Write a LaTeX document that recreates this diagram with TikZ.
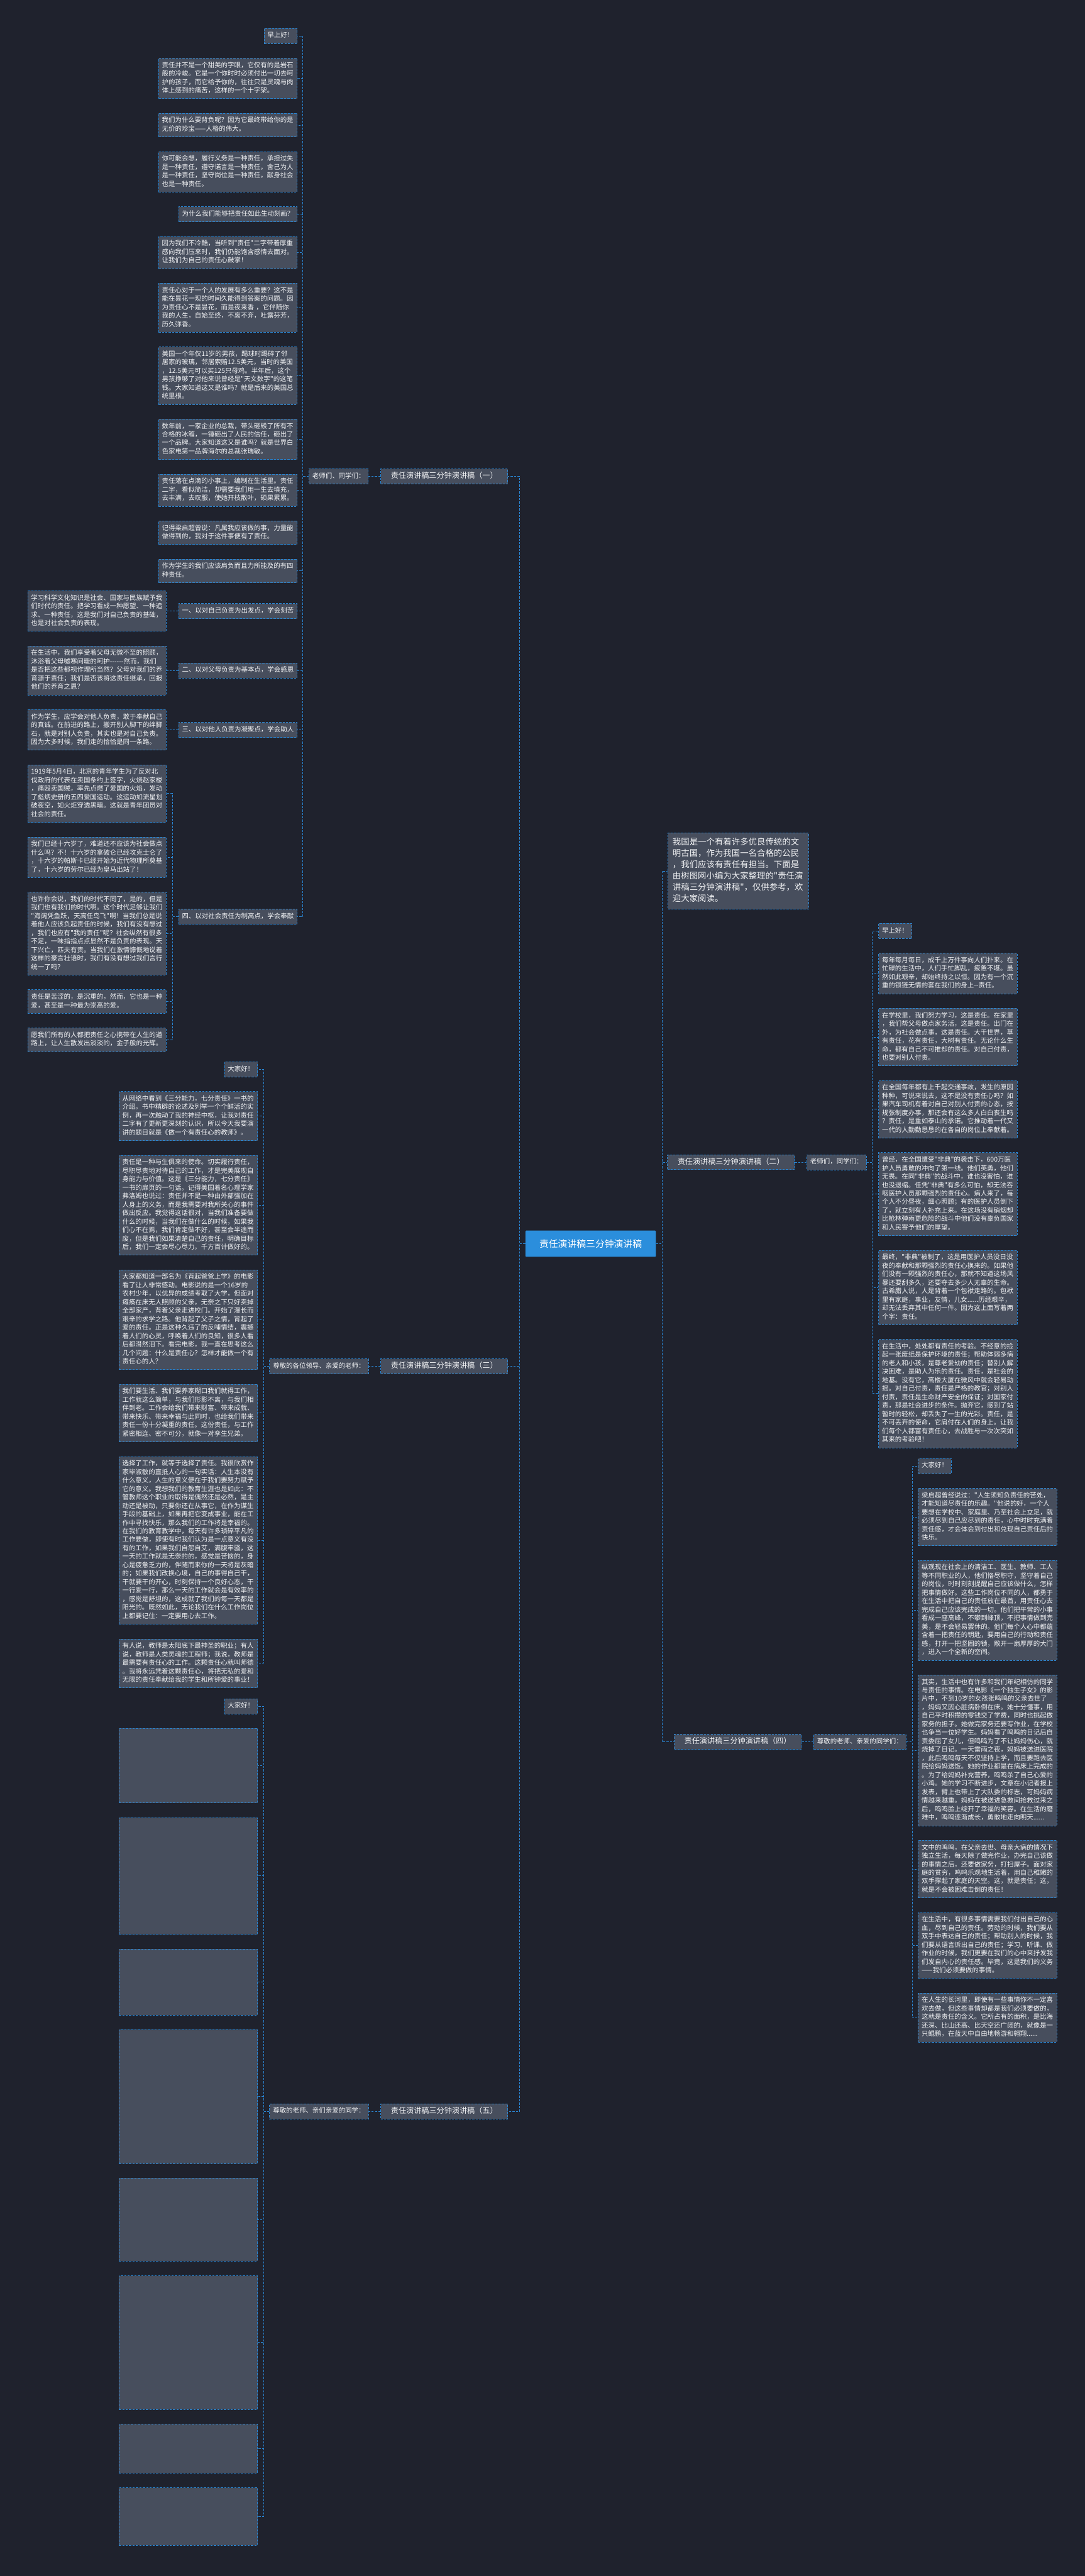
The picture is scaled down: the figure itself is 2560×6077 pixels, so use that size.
\documentclass[tikz,border=0pt]{standalone}
\usepackage{fontspec}
\newfontfamily\cjk{Noto Sans CJK SC}
\usetikzlibrary{positioning, calc}
\setlength{\parindent}{0pt}

\definecolor{bgdark}{HTML}{1F222D}
\definecolor{boxgray}{HTML}{474E5D}
\definecolor{lineblue}{HTML}{2A86D3}
\definecolor{rootblue}{HTML}{2B8EDC}
\definecolor{txtwhite}{HTML}{F2F3F5}

\newcommand\leaffont{\cjk\fontsize{15.5pt}{20pt}\selectfont}
\newcommand\introfont{\cjk\fontsize{19.9pt}{26.7pt}\selectfont}
\newcommand\titlefont{\cjk\fontsize{18pt}{22pt}\selectfont}
\newcommand\rootfont{\cjk\fontsize{22pt}{28pt}\selectfont}

\tikzset{
  box/.style={draw=lineblue, dash pattern=on 5pt off 3pt, line width=1.3pt,
    fill=boxgray, text=txtwhite, font=\leaffont, inner xsep=8pt, inner ysep=7.75pt,
    execute at begin node=\strut, execute at end node=\strut},
  leaf/.style={box, text width=311pt, align=left},
  blank/.style={leaf, minimum height=20*#1+15.5},
  intro/.style={box, font=\introfont, text width=310pt, align=left,
    inner xsep=10.8pt, inner ysep=10pt},
  branch/.style={box, font=\titlefont, minimum width=300pt, minimum height=35pt, inner ysep=4pt},
  rootnode/.style={fill=rootblue, text=white, font=\rootfont, minimum width=308pt,
    minimum height=62pt, rounded corners=2pt},
  link/.style={draw=lineblue, dash pattern=on 5pt off 3pt, line width=1.3pt},
  wl/.style={link, to path={(\tikztostart.west) -- ++(-14,0) |- (\tikztotarget.east)}},
  wr/.style={link, to path={(\tikztostart.east) -- ++(14,0) |- (\tikztotarget.west)}}
}

\begin{document}
\begin{tikzpicture}[x=1pt, y=-1pt]
\fill[bgdark] (0,0) rectangle (2560,6077);
\useasboundingbox (0,0) rectangle (2560,6077);

\node[rootnode] (root) at (1394,2934) {责任演讲稿三分钟演讲稿};

% (一)
\node[box, anchor=north east] (b1a) at (702,66.4) {早上好！};
\node[leaf, below=33.4pt of b1a.south east, anchor=north east] (b1b) {责任并不是一个甜美的字眼，它仅有的是岩石\\般的冷峻。它是一个你时时必须付出一切去呵\\护的孩子，而它给予你的，往往只是灵魂与肉\\体上感到的痛苦，这样的一个十字架。};
\node[leaf, below=33.4pt of b1b.south east, anchor=north east] (b1c) {我们为什么要背负呢？因为它最终带给你的是\\无价的珍宝——人格的伟大。};
\node[leaf, below=33.4pt of b1c.south east, anchor=north east] (b1d) {你可能会想，履行义务是一种责任，承担过失\\是一种责任，遵守诺言是一种责任，舍己为人\\是一种责任，坚守岗位是一种责任，献身社会\\也是一种责任。};
\node[box, below=33.4pt of b1d.south east, anchor=north east] (b1e) {为什么我们能够把责任如此生动刻画？};
\node[leaf, below=33.4pt of b1e.south east, anchor=north east] (b1f) {因为我们不冷酷，当听到"责任"二字带着厚重\\感向我们压来时，我们仍能饱含感情去面对。\\让我们为自己的责任心鼓掌！};
\node[leaf, below=33.4pt of b1f.south east, anchor=north east] (b1g) {责任心对于一个人的发展有多么重要？这不是\\能在昙花一现的时间久能得到答案的问题。因\\为责任心不是昙花，而是夜来香 ，它伴随你\\我的人生，自始至终，不离不弃，吐露芬芳，\\历久弥香。};
\node[leaf, below=33.4pt of b1g.south east, anchor=north east] (b1h) {美国一个年仅11岁的男孩，踢球时踢碎了邻\\居家的玻璃，邻居索赔12.5美元，当时的美国\\，12.5美元可以买125只母鸡。半年后，这个\\男孩挣够了对他来说曾经是"天文数字"的这笔\\钱。大家知道这又是谁吗？就是后来的美国总\\统里根。};
\node[leaf, below=33.4pt of b1h.south east, anchor=north east] (b1i) {数年前，一家企业的总裁，带头砸毁了所有不\\合格的冰箱，一锤砸出了人民的信任，砸出了\\一个品牌。大家知道这又是谁吗？就是世界白\\色家电第一品牌海尔的总裁张瑞敏。};
\node[leaf, below=33.4pt of b1i.south east, anchor=north east] (b1j) {责任落在点滴的小事上，编制在生活里。责任\\二字，看似简洁，却需要我们用一生去填充，\\去丰满，去叹服，使她开枝散叶，硕果累累。};
\node[leaf, below=33.4pt of b1j.south east, anchor=north east] (b1k) {记得梁启超曾说：凡属我应该做的事，力量能\\做得到的，我对于这件事便有了责任。};
\node[leaf, below=33.4pt of b1k.south east, anchor=north east] (b1l) {作为学生的我们应该肩负而且力所能及的有四\\种责任。};

\node[leaf, anchor=north east] (b1q1) at (393,1393.2) {学习科学文化知识是社会、国家与民族赋予我\\们时代的责任。把学习看成一种愿望、一种追\\求、一种责任，这是我们对自己负责的基础，\\也是对社会负责的表现。};
\node[leaf, below=33.4pt of b1q1.south east, anchor=north east] (b1q2) {在生活中，我们享受着父母无微不至的照顾，\\沐浴着父母嘘寒问暖的呵护------然而，我们\\是否把这些都视作理所当然？父母对我们的养\\育源于责任；我们是否该将这责任继承，回报\\他们的养育之恩？};
\node[leaf, below=33.4pt of b1q2.south east, anchor=north east] (b1q3) {作为学生，应学会对他人负责，敢于奉献自己\\的真诚。在前进的路上，搬开别人脚下的绊脚\\石，就是对别人负责，其实也是对自己负责。\\因为大多时候，我们走的恰恰是同一条路。};
\node[leaf, below=33.4pt of b1q3.south east, anchor=north east] (b1q4a) {1919年5月4日，北京的青年学生为了反对北\\伐政府的代表在卖国条约上签字，火烧赵家楼\\，痛殴卖国贼，率先点燃了爱国的火焰，发动\\了彪炳史册的五四爱国运动。这运动如流星划\\破夜空，如火炬穿透黑暗。这就是青年团员对\\社会的责任。};
\node[leaf, below=33.4pt of b1q4a.south east, anchor=north east] (b1q4b) {我们已经十六岁了，难道还不应该为社会做点\\什么吗？不！十六岁的拿破仑已经攻克士仑了\\，十六岁的帕斯卡已经开始为近代物理所奠基\\了，十六岁的劳尔已经为皇马出站了！};
\node[leaf, below=33.4pt of b1q4b.south east, anchor=north east] (b1q4c) {也许你会说，我们的时代不同了，是的，但是\\我们也有我们的时代啊。这个时代足够让我们\\"海阔凭鱼跃，天高任鸟飞"啊！当我们总是说\\着他人应该负起责任的时候，我们有没有想过\\，我们也应有"我的责任"呢？社会纵然有很多\\不足，一味指指点点显然不是负责的表现。天\\下兴亡，匹夫有责。当我们在激情慷慨地说着\\这样的豪言壮语时，我们有没有想过我们言行\\统一了吗？};
\node[leaf, below=33.4pt of b1q4c.south east, anchor=north east] (b1q4d) {责任是苦涩的，是沉重的，然而，它也是一种\\爱，甚至是一种最为崇高的爱。};
\node[leaf, below=33.4pt of b1q4d.south east, anchor=north east] (b1q4e) {愿我们所有的人都把责任之心携带在人生的道\\路上，让人生散发出淡淡的，金子般的光辉。};

\node[box, right=28pt of b1q1] (b1p1) {一、以对自己负责为出发点，学会刻苦};
\node[box, right=28pt of b1q2] (b1p2) {二、以对父母负责为基本点，学会感恩};
\node[box, right=28pt of b1q3] (b1p3) {三、以对他人负责为凝聚点，学会助人};
\node[box, anchor=west] (b1p4) at ($(b1q4a.east)!0.5!(b1q4e.east)+(28,0)$) {四、以对社会责任为制高点，学会奉献};

\node[box, anchor=east] (s1) at ($(b1a.east)!0.5!(b1p4.east)+(168,0)$) {老师们、同学们：};
\node[branch, right=28pt of s1] (t1) {责任演讲稿三分钟演讲稿（一）};

% (三)
\node[box, anchor=north east] (b3a) at (608.3,2504.4) {大家好！};
\node[leaf, below=33.4pt of b3a.south east, anchor=north east] (b3b) {从网络中看到《三分能力，七分责任》一书的\\介绍。书中精辟的论述及列举一个个鲜活的实\\例，再一次触动了我的神经中枢，让我对责任\\二字有了更新更深刻的认识，所以今天我要演\\讲的题目就是《做一个有责任心的教师》。};
\node[leaf, below=33.4pt of b3b.south east, anchor=north east] (b3c) {责任是一种与生俱来的使命。切实履行责任，\\尽职尽责地对待自己的工作，才是完美展现自\\身能力与价值。这是《三分能力，七分责任》\\一书的扉页的一句话。记得美国着名心理学家\\弗洛姆也说过：责任并不是一种由外部强加在\\人身上的义务，而是我需要对我所关心的事件\\做出反应。我觉得这话很对，当我们准备要做\\什么的时候，当我们在做什么的时候，如果我\\们心不在焉，我们肯定做不好，甚至会半途而\\废，但是我们如果清楚自己的责任，明确目标\\后，我们一定会尽心尽力，千方百计做好的。};
\node[leaf, below=33.4pt of b3c.south east, anchor=north east] (b3d) {大家都知道一部名为《背起爸爸上学》的电影\\看了让人非常感动。电影说的是一个16岁的\\农村少年，以优异的成绩考取了大学，但面对\\瘫痪在床无人照顾的父亲，无奈之下只好卖掉\\全部家产，背着父亲走进校门。开始了漫长而\\艰辛的求学之路。他背起了父子之情，背起了\\爱的责任。正是这种久违了的反哺情结，震撼\\着人们的心灵，呼唤着人们的良知，很多人看\\后都潸然泪下。看完电影，我一直在思考这么\\几个问题：什么是责任心？怎样才能做一个有\\责任心的人？};
\node[leaf, below=33.4pt of b3d.south east, anchor=north east] (b3e) {我们要生活、我们要养家糊口我们就得工作，\\工作就这么简单，与我们形影不离，与我们相\\伴到老。工作会给我们带来财富、带来成就、\\带来快乐、带来幸福与此同时，也给我们带来\\责任一份十分凝重的责任。这份责任，与工作\\紧密相连、密不可分，就像一对孪生兄弟。};
\node[leaf, below=33.4pt of b3e.south east, anchor=north east] (b3f) {选择了工作，就等于选择了责任。我很欣赏作\\家毕淑敏的直抵人心的一句实话：人生本没有\\什么意义，人生的意义便在于我们要努力赋予\\它的意义。我想我们的教育生涯也是如此：不\\管教师这个职业的取得是偶然还是必然，是主\\动还是被动，只要你还在从事它，在作为谋生\\手段的基础上，如果再把它变成事业，能在工\\作中寻找快乐，那么我们的工作将是幸福的。\\在我们的教育教学中，每天有许多琐碎平凡的\\工作要做，即使有时我们认为是一点意义有没\\有的工作，如果我们自怨自艾，满腹牢骚，这\\一天的工作就是无奈的的，感觉是苦恼的，身\\心是疲惫乏力的，伴随而来你的一天将是灰暗\\的；如果我们改换心境，自己的事得自己干，\\干就要干的开心，时刻保持一个良好心态，干\\一行爱一行，那么一天的工作就会是有效率的\\，感觉是舒坦的，这成就了我们的每一天都是\\阳光的。既然如此，无论我们在什么工作岗位\\上都要记住：一定要用心去工作。};
\node[leaf, below=33.4pt of b3f.south east, anchor=north east] (b3g) {有人说，教师是太阳底下最神圣的职业；有人\\说，教师是人类灵魂的工程师；我说，教师是\\最需要有责任心的工作。这颗责任心就叫师德\\。我将永远凭着这颗责任心，将把无私的爱和\\无限的责任奉献给我的学生和所钟爱的事业！};

\node[box, anchor=east] (s3) at ($(b3a.east)!0.5!(b3g.east)+(261.7,0)$) {尊敬的各位领导、亲爱的老师：};
\node[branch, right=28pt of s3] (t3) {责任演讲稿三分钟演讲稿（三）};

% (五)  only the greeting could be read; the other boxes keep their size
\node[box, anchor=north east] (b5a) at (608.3,4006.7) {大家好！};
\node[blank=8, below=33.4pt of b5a.south east, anchor=north east] (b5b) {};
\node[blank=13, below=33.4pt of b5b.south east, anchor=north east] (b5c) {};
\node[blank=7, below=33.4pt of b5c.south east, anchor=north east] (b5d) {};
\node[blank=15, below=33.4pt of b5d.south east, anchor=north east] (b5e) {};
\node[blank=9, below=33.4pt of b5e.south east, anchor=north east] (b5f) {};
\node[blank=15, below=33.4pt of b5f.south east, anchor=north east] (b5g) {};
\node[blank=5, below=33.4pt of b5g.south east, anchor=north east] (b5h) {};
\node[blank=6, below=33.4pt of b5h.south east, anchor=north east] (b5i) {};

\node[box, anchor=east] (s5) at ($(b5a.east)!0.5!(b5i.east)+(261.7,0)$) {尊敬的老师、亲们亲爱的同学：};
\node[branch, right=28pt of s5] (t5) {责任演讲稿三分钟演讲稿（五）};

% right side
\node[intro, anchor=north west] (intro) at (1576,1964.3) {我国是一个有着许多优良传统的文\\明古国，作为我国一名合格的公民\\，我们应该有责任有担当。下面是\\由树图网小编为大家整理的"责任演\\讲稿三分钟演讲稿"，仅供参考，欢\\迎大家阅读。};

% (二)
\node[box, anchor=north west] (b2a) at (2073,2177.9) {早上好！};
\node[leaf, below=33.4pt of b2a.south west, anchor=north west] (b2b) {每年每月每日，成千上万件事向人们扑来。在\\忙碌的生活中，人们手忙脚乱，疲惫不堪。虽\\然如此艰辛，却始终持之以恒。因为有一个沉\\重的锁链无情的套在我们的身上--责任。};
\node[leaf, below=33.4pt of b2b.south west, anchor=north west] (b2c) {在学校里，我们努力学习，这是责任。在家里\\，我们帮父母做点家务活，这是责任。出门在\\外，为社会做点事，这是责任。大千世界，草\\有责任，花有责任，大树有责任。无论什么生\\命，都有自己不可推却的责任。对自己付责，\\也要对别人付责。};
\node[leaf, below=33.4pt of b2c.south west, anchor=north west] (b2d) {在全国每年都有上千起交通事故，发生的原因\\种种，可说来说去，这不是没有责任心吗？如\\果汽车司机有着对自己对别人付责的心态，按\\规张制度办事，那还会有这么多人白白丧生吗\\？责任，是重如泰山的承诺。它推动着一代又\\一代的人勤勤恳恳的在各自的岗位上奉献着。};
\node[leaf, below=33.4pt of b2d.south west, anchor=north west] (b2e) {曾经，在全国遭受"非典"的袭击下，600万医\\护人员勇敢的冲向了第一线。他们英勇，他们\\无畏。在同"非典"的战斗中，谁也没害怕，谁\\也没退缩。任凭"非典"有多么可怕，却无法吞\\咽医护人员那颗强烈的责任心。病人来了，每\\个人不分昼夜，细心照顾；有的医护人员倒下\\了，就立刻有人补充上来。在这场没有硝烟却\\比枪林弹雨更危险的战斗中他们没有辜负国家\\和人民寄予他们的厚望。};
\node[leaf, below=33.4pt of b2e.south west, anchor=north west] (b2f) {最终，"非典"被制了，这是用医护人员没日没\\夜的奉献和那颗强烈的责任心换来的。如果他\\们没有一颗强烈的责任心，那就不知道这场风\\暴还要刮多久，还要夺去多少人无辜的生命。\\古希腊人说，人是背着一个包袱走路的。包袱\\里有家庭，事业，友情，儿女......历经艰辛，\\却无法丢弃其中任何一件。因为这上面写着两\\个字：责任。};
\node[leaf, below=33.4pt of b2f.south west, anchor=north west] (b2g) {在生活中，处处都有责任的考验。不经意的捡\\起一张废纸是保护环境的责任；帮助体弱多病\\的老人和小孩，是尊老爱幼的责任；替别人解\\决困难，是助人为乐的责任。责任，是社会的\\地基。没有它，高楼大厦在微风中就会轻易动\\摇。对自己付责，责任是严格的教官；对别人\\付责，责任是生命财产安全的保证；对国家付\\责，那是社会进步的条件。抛弃它，感到了站\\暂时的轻松，却丢失了一生的光彩。责任，是\\不可丢弃的使命，它肩付在人们的身上。让我\\们每个人都富有责任心，去战胜与一次次突如\\其来的考验吧！};

\node[box, anchor=east] (s2) at ($(b2a.west)!0.5!(b2g.west)+(-28,0)$) {老师们，同学们：};
\node[branch, left=28pt of s2] (t2) {责任演讲稿三分钟演讲稿（二）};

% (四)
\node[box, anchor=north west] (b4a) at (2166.7,3440.2) {大家好！};
\node[leaf, below=33.4pt of b4a.south west, anchor=north west] (b4b) {梁启超曾经说过："人生须知负责任的苦处，\\才能知道尽责任的乐趣。"他说的好，一个人\\要想在学校中、家庭里、乃至社会上立足，就\\必须尽到自己应尽到的责任，心中时时充满着\\责任感，才会体会到付出和兑现自己责任后的\\快乐。};
\node[leaf, below=33.4pt of b4b.south west, anchor=north west] (b4c) {纵观现在社会上的清洁工、医生、教师、工人\\等不同职业的人，他们恪尽职守，坚守着自己\\的岗位，时时刻刻提醒自己应该做什么，怎样\\把事情做好。这些工作岗位不同的人，都勇于\\在生活中把自己的责任放在最首，用责任心去\\完成自己应该完成的一切。他们把平常的小事\\看成一座高峰，不攀到峰顶，不把事情做到完\\美，是不会轻易罢休的。他们每个人心中都蕴\\含着一把责任的钥匙，要用自己的行动和责任\\感，打开一把坚固的锁，敞开一扇厚厚的大门\\，进入一个全新的空间。};
\node[leaf, below=33.4pt of b4c.south west, anchor=north west] (b4d) {其实，生活中也有许多和我们年纪相仿的同学\\与责任的事情。在电影《一个独生子女》的影\\片中，不到10岁的女孩张鸣鸣的父亲去世了\\，妈妈又因心脏病卧倒在床。她十分懂事，用\\自己平时积攒的零钱交了学费，同时也挑起做\\家务的担子。她做完家务还要写作业，在学校\\也争当一位好学生。妈妈看了鸣鸣的日记后自\\责委屈了女儿，但鸣鸣为了不让妈妈伤心，就\\烧掉了日记。一天雷雨之夜，妈妈被送进医院\\，此后鸣鸣每天不仅坚持上学，而且要跑去医\\院给妈妈送饭。她的作业都是在病床上完成的\\。为了给妈妈补充营养，鸣鸣杀了自己心爱的\\小鸡。她的学习不断进步，文章在小记者报上\\发表，臂上也带上了大队委的标志，可妈妈病\\情越来越重。妈妈在被送进急救间抢救过来之\\后，鸣鸣脸上绽开了幸福的笑容。在生活的磨\\难中，鸣鸣逐渐成长，勇敢地走向明天......};
\node[leaf, below=33.4pt of b4d.south west, anchor=north west] (b4e) {文中的鸣鸣，在父亲去世、母亲大病的情况下\\独立生活，每天除了做完作业，办完自己该做\\的事情之后，还要做家务，打扫屋子。面对家\\庭的贫穷，鸣鸣乐观地生活着，用自己稚嫩的\\双手撑起了家庭的天空。这，就是责任；这，\\就是不会被困难击倒的责任！};
\node[leaf, below=33.4pt of b4e.south west, anchor=north west] (b4f) {在生活中，有很多事情需要我们付出自己的心\\血，尽到自己的责任。劳动的时候，我们要从\\双手中表达自己的责任；帮助别人的时候，我\\们要从语言诉出自己的责任；学习、听课、做\\作业的时候，我们更要在我们的心中来抒发我\\们发自内心的责任感。毕竟，这是我们的义务\\——我们必须要做的事情。};
\node[leaf, below=33.4pt of b4f.south west, anchor=north west] (b4g) {在人生的长河里，即使有一些事情你不一定喜\\欢去做，但这些事情却都是我们必须要做的，\\这就是责任的含义。它所占有的面积，是比海\\还深、比山还高、比天空还广阔的，就像是一\\只鲲鹏，在蓝天中自由地畅游和翱翔......};

\node[box, anchor=east] (s4) at ($(b4a.west)!0.5!(b4g.west)+(-28,0)$) {尊敬的老师、亲爱的同学们：};
\node[branch, left=28pt of s4] (t4) {责任演讲稿三分钟演讲稿（四）};

% connectors
\path (root) edge[wl] (t1) edge[wl] (t3) edge[wl] (t5)
      (root) edge[wr] (intro) edge[wr] (t2) edge[wr] (t4)
      (t1) edge[wl] (s1) (t3) edge[wl] (s3) (t5) edge[wl] (s5)
      (t2) edge[wr] (s2) (t4) edge[wr] (s4);
\path (s1) edge[wl] (b1a) edge[wl] (b1b) edge[wl] (b1c) edge[wl] (b1d)
           edge[wl] (b1e) edge[wl] (b1f) edge[wl] (b1g) edge[wl] (b1h)
           edge[wl] (b1i) edge[wl] (b1j) edge[wl] (b1k) edge[wl] (b1l)
           edge[wl] (b1p1) edge[wl] (b1p2) edge[wl] (b1p3) edge[wl] (b1p4)
      (b1p1) edge[wl] (b1q1) (b1p2) edge[wl] (b1q2) (b1p3) edge[wl] (b1q3)
      (b1p4) edge[wl] (b1q4a) edge[wl] (b1q4b) edge[wl] (b1q4c)
             edge[wl] (b1q4d) edge[wl] (b1q4e);
\path (s3) edge[wl] (b3a) edge[wl] (b3b) edge[wl] (b3c) edge[wl] (b3d)
           edge[wl] (b3e) edge[wl] (b3f) edge[wl] (b3g)
      (s5) edge[wl] (b5a) edge[wl] (b5b) edge[wl] (b5c) edge[wl] (b5d)
           edge[wl] (b5e) edge[wl] (b5f) edge[wl] (b5g) edge[wl] (b5h)
           edge[wl] (b5i);
\path (s2) edge[wr] (b2a) edge[wr] (b2b) edge[wr] (b2c) edge[wr] (b2d)
           edge[wr] (b2e) edge[wr] (b2f) edge[wr] (b2g)
      (s4) edge[wr] (b4a) edge[wr] (b4b) edge[wr] (b4c) edge[wr] (b4d)
           edge[wr] (b4e) edge[wr] (b4f) edge[wr] (b4g);
\end{tikzpicture}
\end{document}
